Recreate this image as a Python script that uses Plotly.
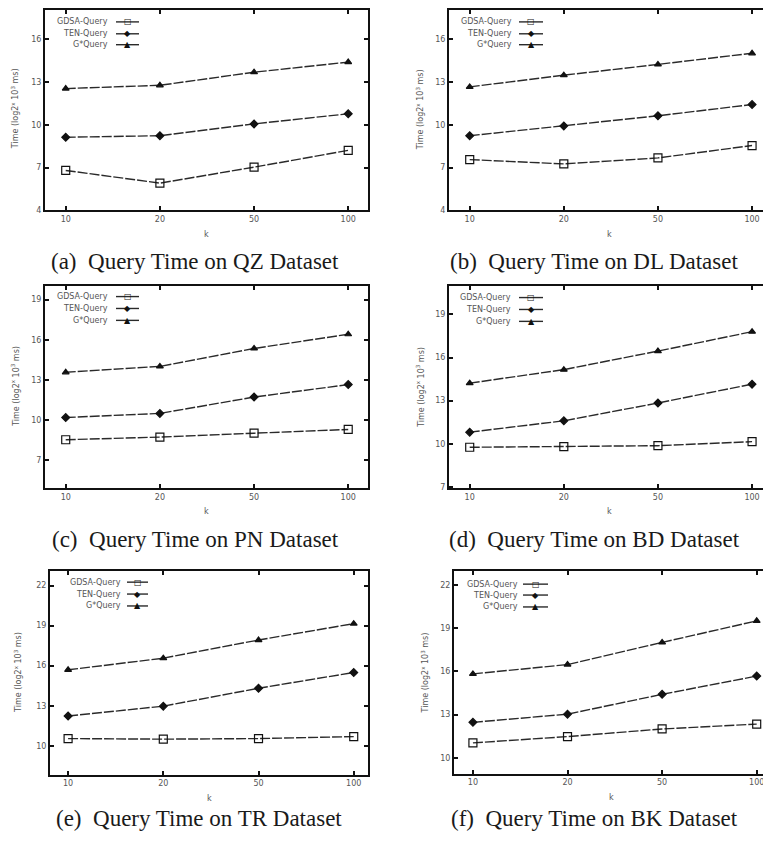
import plotly.graph_objects as go

W, H = 771, 842
OFF = 8  # page body margin
FW, FH = W - OFF, H - OFF

k_labels = ["10", "20", "50", "100"]
series_names = ["GDSA-Query", "TEN-Query", "G*Query"]

# values (log-scaled time)
qz_gdsa = [6.8, 5.91, 7.03, 8.21]
qz_ten = [9.13, 9.24, 10.07, 10.78]
qz_gstar = [12.55, 12.78, 13.7, 14.41]

dl_gdsa = [7.56, 7.26, 7.68, 8.55]
dl_ten = [9.24, 9.93, 10.64, 11.43]
dl_gstar = [12.67, 13.49, 14.25, 15.03]

pn_gdsa = [8.53, 8.73, 9.02, 9.3]
pn_ten = [10.19, 10.5, 11.72, 12.65]
pn_gstar = [13.57, 14.01, 15.35, 16.41]

bd_gdsa = [9.76, 9.8, 9.87, 10.15]
bd_ten = [10.81, 11.6, 12.84, 14.15]
bd_gstar = [14.22, 15.16, 16.45, 17.8]

tr_gdsa = [10.54, 10.5, 10.54, 10.69]
tr_ten = [12.23, 12.97, 14.31, 15.49]
tr_gstar = [15.69, 16.56, 17.92, 19.15]

bk_gdsa = [11.03, 11.47, 12.0, 12.34]
bk_ten = [12.46, 13.03, 14.41, 15.68]
bk_gstar = [15.83, 16.48, 18.02, 19.52]

captions = [
    "(a)\u00a0 Query Time on QZ Dataset",
    "(b)\u00a0 Query Time on DL Dataset",
    "(c)\u00a0 Query Time on PN Dataset",
    "(d)\u00a0 Query Time on BD Dataset",
    "(e)\u00a0 Query Time on TR Dataset",
    "(f)\u00a0 Query Time on BK Dataset",
]

yticks_ab = [4, 7, 10, 13, 16]
yticks_cd = [7, 10, 13, 16, 19]
yticks_ef = [10, 13, 16, 19, 22]

panels = [
    dict(data=[qz_gdsa, qz_ten, qz_gstar], box=(45, 368, 6, 210), xr=[-0.22, 3.21], yr=[4, 18.07], yt=yticks_ab,
         cap=(195, 262), ytl=15, leg=(110, 116, 139, [20, 32, 43])),
    dict(data=[dl_gdsa, dl_ten, dl_gstar], box=(449, 769, 6, 210), xr=[-0.22, 3.18], yr=[4, 18.07], yt=yticks_ab,
         cap=(594, 262), ytl=420, leg=(514, 519, 543, [20, 32, 43])),
    dict(data=[pn_gdsa, pn_ten, pn_gstar], box=(45, 368, 286, 490), xr=[-0.22, 3.21], yr=[4.93, 20.04], yt=yticks_cd,
         cap=(195, 542), ytl=15, leg=(110, 116, 139, [297, 309, 321])),
    dict(data=[bd_gdsa, bd_ten, bd_gstar], box=(449, 769, 286, 490), xr=[-0.22, 3.18], yr=[6.93, 21.0], yt=yticks_cd,
         cap=(594, 542), ytl=420, leg=(513, 519, 543, [298, 310, 322])),
    dict(data=[tr_gdsa, tr_ten, tr_gstar], box=(50, 368, 574, 779), xr=[-0.19, 3.15], yr=[7.85, 23.07], yt=yticks_ef,
         cap=(199, 823), ytl=18, leg=(123, 127, 148, [585, 597, 609])),
    dict(data=[bk_gdsa, bk_ten, bk_gstar], box=(454, 769, 574, 778), xr=[-0.2, 3.13], yr=[8.9, 22.97], yt=yticks_ef,
         cap=(594, 823), ytl=425, leg=(520, 523, 548, [587, 598, 610])),
]

symbols = ["square-open", "diamond", "triangle-up"]
sizes = [8, 6, 6]
glyphs = ["\u25a1", "\u25c6", "\u25b2"]
line_col = "#2a2a2a"
tick_font = dict(family="DejaVu Sans", size=8, color="#555555")

fig = go.Figure()
annotations = []
shapes = []


def px_x(v):
    return (v - OFF) / FW


def px_y(v):
    return 1 - (v - OFF) / FH


for i, p in enumerate(panels):
    n = i + 1
    xa = "x" if n == 1 else f"x{n}"
    ya = "y" if n == 1 else f"y{n}"
    for s, vals in enumerate(p["data"]):
        fig.add_trace(go.Scatter(
            x=k_labels, y=vals, xaxis=xa, yaxis=ya, mode="lines+markers",
            name=series_names[s], showlegend=False,
            line=dict(color=line_col, width=1.4, dash="10px,2px"),
            marker=dict(symbol=symbols[s], size=sizes[s], color="#111111",
                        line=dict(color="#111111", width=1.2)),
        ))
    x0, x1, y0, y1 = p["box"]
    axis_common = dict(showline=True, linewidth=2, linecolor="#111111", mirror="ticks",
                       ticks="inside", ticklen=4, tickwidth=1.5, tickcolor="#111111",
                       showgrid=False, zeroline=False, tickfont=tick_font)
    fig.update_layout(**{
        ("xaxis" if n == 1 else f"xaxis{n}"): dict(
            domain=[px_x(x0), min(1.0, px_x(x1))], anchor=ya, type="category",
            range=p["xr"], **axis_common),
        ("yaxis" if n == 1 else f"yaxis{n}"): dict(
            domain=[px_y(y1), min(1.0, px_y(y0))], anchor=xa, range=p["yr"],
            tickvals=p["yt"], **axis_common),
    })
    # caption
    cx, cy = p["cap"]
    annotations.append(dict(text=captions[i], x=px_x(cx), y=px_y(cy), xref="paper", yref="paper",
                            showarrow=False, xanchor="center", yanchor="middle",
                            font=dict(family="Liberation Serif", size=23, color="#1a1a1a")))
    # axis titles
    annotations.append(dict(text="k", x=px_x((x0 + x1) / 2), y=px_y(y1 + 24), xref="paper", yref="paper",
                            showarrow=False, xanchor="center", yanchor="middle", font=tick_font))
    annotations.append(dict(text="Time (log2<sup>x</sup> 10<sup>3</sup> ms)", x=px_x(p["ytl"]),
                            y=px_y((y0 + y1) / 2), xref="paper", yref="paper", textangle=-90,
                            showarrow=False, xanchor="center", yanchor="middle", font=tick_font))
    # legend (text on the left, sample on the right)
    tx, lx0, lx1, rows = p["leg"]
    for s in range(3):
        ry = rows[s]
        annotations.append(dict(text=series_names[s], x=px_x(tx), y=px_y(ry), xref="paper", yref="paper",
                                showarrow=False, xanchor="right", yanchor="middle",
                                font=dict(family="DejaVu Sans", size=8, color="#555555")))
        shapes.append(dict(type="line", xref="paper", yref="paper", x0=px_x(lx0), x1=px_x(lx1),
                           y0=px_y(ry), y1=px_y(ry), line=dict(color=line_col, width=1.4)))
        annotations.append(dict(text=glyphs[s], x=px_x((lx0 + lx1) / 2), y=px_y(ry), xref="paper",
                                yref="paper", showarrow=False, xanchor="center", yanchor="middle",
                                font=dict(family="DejaVu Sans", size=8, color="#111111")))

fig.update_layout(width=FW, height=FH, margin=dict(l=0, r=0, t=0, b=0),
                  paper_bgcolor="white", plot_bgcolor="white", showlegend=False,
                  annotations=annotations, shapes=shapes)

fig.write_html("out.html")
